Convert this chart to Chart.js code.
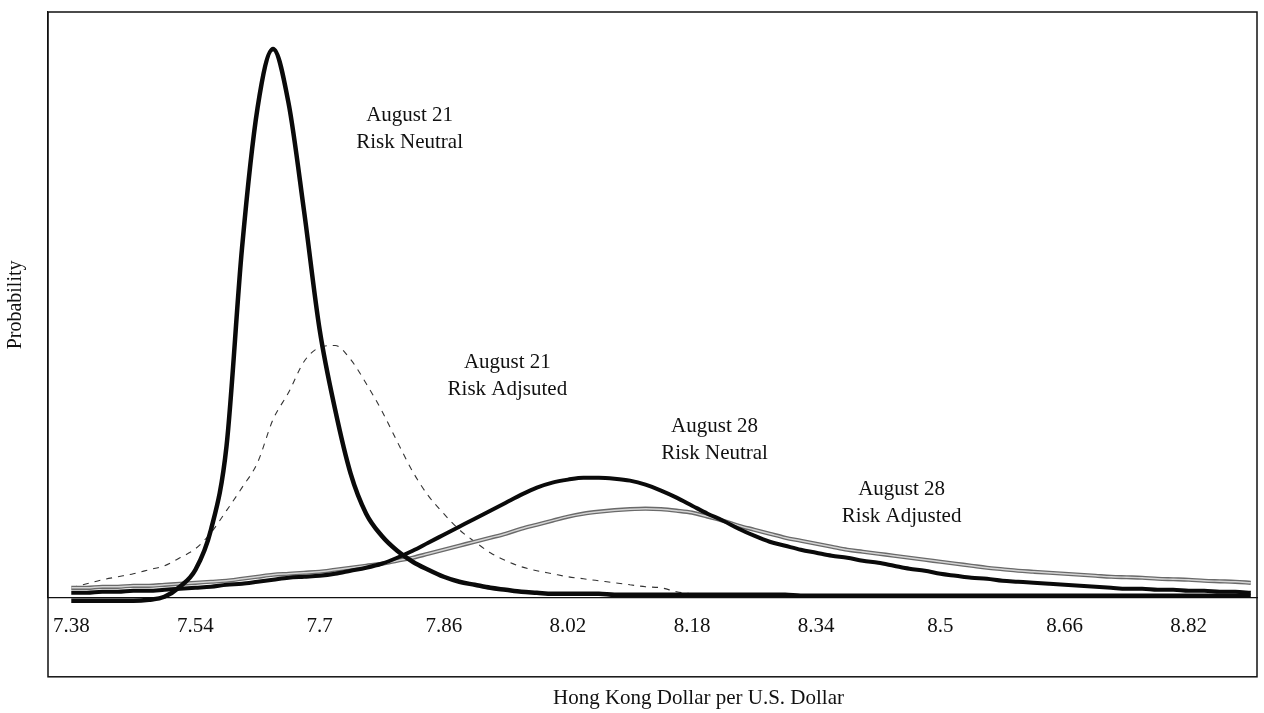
<!DOCTYPE html>
<html>
<head>
<meta charset="utf-8">
<script src="https://cdn.jsdelivr.net/npm/chart.js@4/dist/chart.umd.min.js"></script>
<style>
  html, body { margin: 0; padding: 0; background: #fff; }
  #wrap { width: 1264px; height: 713px; }
</style>
</head>
<body>
<div id="wrap"><canvas id="c" width="1264" height="713"></canvas></div>
<script>
// Exchange rate categories (HKD per USD)
const xValues = [
  7.38, 7.40, 7.42, 7.44, 7.46, 7.48, 7.50, 7.52, 7.54, 7.56,
  7.58, 7.60, 7.62, 7.64, 7.66, 7.68, 7.70, 7.72, 7.74, 7.76,
  7.78, 7.80, 7.82, 7.84, 7.86, 7.88, 7.90, 7.92, 7.94, 7.96,
  7.98, 8.00, 8.02, 8.04, 8.06, 8.08, 8.10, 8.12, 8.14, 8.16,
  8.18, 8.20, 8.22, 8.24, 8.26, 8.28, 8.30, 8.32, 8.34, 8.36,
  8.38, 8.40, 8.42, 8.44, 8.46, 8.48, 8.50, 8.52, 8.54, 8.56,
  8.58, 8.60, 8.62, 8.64, 8.66, 8.68, 8.70, 8.72, 8.74, 8.76,
  8.78, 8.80, 8.82, 8.84, 8.86, 8.88, 8.90
];

// Relative probability densities
const aug21Neutral = [
  -3, -3, -3, -3, -3, -2, 1, 11, 28, 68,
  151, 349, 489, 548, 494, 386, 268, 188, 124, 84,
  62, 47, 36, 28, 21, 16, 13, 10, 8, 6,
  5, 4, 4, 4, 4, 3, 3, 3, 3, 3,
  3, 3, 3, 3, 3, 3, 3, 2, 2, 2,
  2, 2, 2, 2, 2, 2, 2, 2, 2, 2,
  2, 2, 2, 2, 2, 2, 2, 2, 2, 2,
  2, 2, 2, 2, 2, 2, 2
];

const aug21Adjusted = [
  10, 14, 18, 21, 24, 28, 32, 40, 49, 65,
  87, 110, 135, 178, 205, 236, 250, 252, 238, 214,
  187, 156, 126, 102, 84, 68, 56, 45, 37, 31,
  27, 24, 21, 19, 17, 15, 13, 11, 10, 6,
  4, 3, 2, 2, 2, 2, 2, 2, 2, 2,
  2, 2, 2, 2, 2, 2, 2, 2, 2, 2,
  2, 2, 2, 2, 2, 2, 2, 2, 2, 2,
  2, 2, 2, 2, 2, 2, 2
];

const aug28Neutral = [
  5, 5, 6, 6, 7, 7, 8, 9, 10, 11,
  13, 14, 16, 18, 20, 21, 22, 24, 27, 30,
  34, 40, 47, 55, 63, 71, 79, 87, 95, 103,
  110, 115, 118, 120, 120, 119, 117, 113, 107, 100,
  92, 84, 77, 69, 62, 56, 52, 48, 45, 42,
  40, 37, 35, 32, 29, 27, 24, 22, 20, 19,
  17, 16, 15, 14, 13, 12, 11, 10, 9, 9,
  8, 8, 7, 7, 6, 6, 5
];

const aug28Adjusted = [
  10, 10, 11, 11, 12, 12, 13, 14, 15, 16,
  17, 19, 21, 23, 24, 25, 26, 28, 30, 32,
  34, 37, 40, 44, 48, 52, 56, 60, 64, 69,
  73, 77, 81, 84, 86, 87.5, 88.5, 89, 88.5, 87,
  85, 81, 77, 72, 68, 64, 60, 57, 54, 51,
  48, 46, 44, 42, 40, 38, 36, 34, 32, 30,
  28.5, 27, 26, 25, 24, 23, 22, 21, 20.5, 20,
  19, 18.5, 18, 17, 16.5, 16, 15
];

// Axis tick labels
const tickValues = [7.38, 7.54, 7.70, 7.86, 8.02, 8.18, 8.34, 8.50, 8.66, 8.82];
const tickLabels = ["7.38", "7.54", "7.7", "7.86", "8.02", "8.18", "8.34", "8.5", "8.66", "8.82"];
const xTitle = "Hong Kong Dollar per U.S. Dollar";

// Curve labels (anchored in data coordinates)
const annotX = [7.816, 7.942, 8.209, 8.450];
const annotY = [482, 235, 171, 108];
const annotLine1 = ["August 21", "August 21", "August 28", "August 28"];
const annotLine2 = ["Risk Neutral", "Risk Adjsuted", "Risk Neutral", "Risk Adjusted"];

const toPts = arr => xValues.map((x, i) => ({ x: x, y: arr[i] }));
const SERIF = "'Liberation Serif', 'DejaVu Serif', serif";
const INK = '#111';

const framePlugin = {
  id: 'frameAndLabels',
  afterDraw(chart) {
    const { ctx, chartArea, scales } = chart;
    ctx.save();
    // outer frame
    ctx.strokeStyle = INK;
    ctx.lineWidth = 1.5;
    ctx.strokeRect(chartArea.left, chartArea.top, chartArea.right - chartArea.left, chartArea.bottom + 79 - chartArea.top);
    // curve labels
    ctx.fillStyle = INK;
    ctx.font = "21px " + SERIF;
    ctx.textAlign = 'center';
    ctx.textBaseline = 'middle';
    for (let i = 0; i < annotX.length; i++) {
      const px = scales.x.getPixelForValue(annotX[i]);
      const py = scales.y.getPixelForValue(annotY[i]);
      ctx.fillText(annotLine1[i], px, py);
      ctx.fillText(annotLine2[i], px, py + 27);
    }
    // x-axis title (below the frame, slightly right of centre as in the original)
    ctx.fillText(xTitle, (chartArea.left + chartArea.right) / 2 + 46, chartArea.bottom + 101);
    ctx.restore();
  }
};

new Chart(document.getElementById('c'), {
  type: 'line',
  data: {
    datasets: [
      {
        label: 'August 21 Risk Neutral',
        data: toPts(aug21Neutral),
        borderColor: '#0a0a0a', borderWidth: 4.5,
        pointRadius: 0, cubicInterpolationMode: 'monotone', clip: false, order: 0
      },
      {
        label: 'August 28 Risk Neutral',
        data: toPts(aug28Neutral),
        borderColor: '#0a0a0a', borderWidth: 4,
        pointRadius: 0, cubicInterpolationMode: 'monotone', clip: false, order: 1
      },
      {
        label: 'August 28 Risk Adjusted (core)',
        data: toPts(aug28Adjusted),
        borderColor: '#d4d4d4', borderWidth: 1.4,
        pointRadius: 0, cubicInterpolationMode: 'monotone', clip: false, order: 2
      },
      {
        label: 'August 28 Risk Adjusted',
        data: toPts(aug28Adjusted),
        borderColor: '#6a6a6a', borderWidth: 4.2,
        pointRadius: 0, cubicInterpolationMode: 'monotone', clip: false, order: 3
      },
      {
        label: 'August 21 Risk Adjusted',
        data: toPts(aug21Adjusted),
        borderColor: '#333', borderWidth: 1.1, borderDash: [6, 6],
        pointRadius: 0, cubicInterpolationMode: 'monotone', clip: false, order: 4
      }
    ]
  },
  options: {
    responsive: false,
    animation: false,
    layout: { padding: { left: 0, right: 7, top: 12, bottom: 58 } },
    plugins: { legend: { display: false }, tooltip: { enabled: false } },
    scales: {
      x: {
        type: 'linear',
        min: 7.35, max: 8.908,
        afterBuildTicks: s => { s.ticks = tickValues.map(v => ({ value: v })); },
        ticks: {
          callback: (v, i) => tickLabels[i],
          color: INK, padding: 16, maxRotation: 0, autoSkip: false,
          font: { family: SERIF, size: 21 }
        },
        grid: { display: false, drawTicks: false },
        border: { display: true, color: INK, width: 1.2 },
        title: { display: false }
      },
      y: {
        min: 0, max: 585,
        ticks: { display: false },
        grid: { display: false, drawTicks: false },
        border: { display: true, color: INK, width: 1.2 },
        title: {
          display: true, text: 'Probability', color: INK,
          font: { family: SERIF, size: 20 }, padding: { top: 4, bottom: 20 }
        }
      }
    }
  },
  plugins: [framePlugin]
});
</script>
</body>
</html>
